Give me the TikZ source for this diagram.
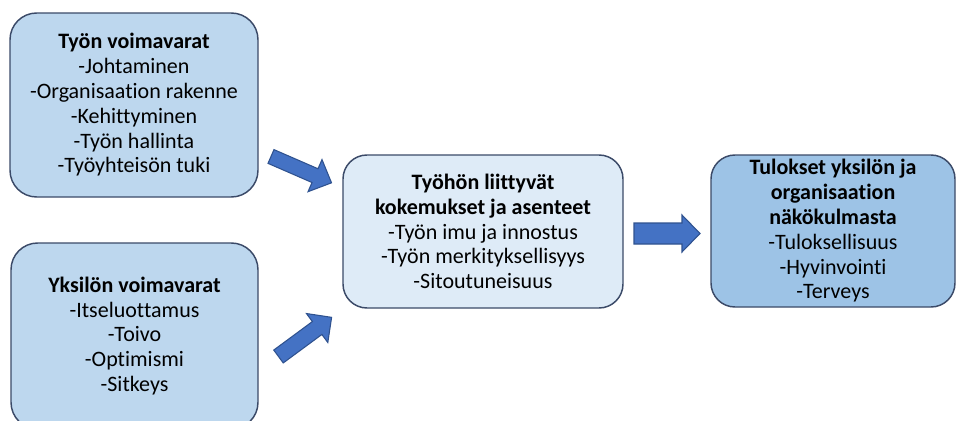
\documentclass[tikz,border=0pt]{standalone}
\usepackage{fontspec}
\setmainfont[Ligatures=NoCommon]{Carlito}
\begin{document}
\begin{tikzpicture}[x=0.75pt,y=-0.75pt,
  box/.style={draw=boxline, line width=1.1pt, rounded corners=20pt, inner sep=0pt,
    align=center, font=\fontsize{16.5}{18.6}\selectfont},
  blockarrow/.style={draw=arrowline, fill=arrowfill, line width=0.8pt, line join=miter}]
\definecolor{boxline}{HTML}{3B4A68}
\definecolor{fillA}{HTML}{BDD7EE}
\definecolor{fillB}{HTML}{DEEBF7}
\definecolor{fillC}{HTML}{9DC3E6}
\definecolor{arrowfill}{HTML}{4472C4}
\definecolor{arrowline}{HTML}{2F528F}
\useasboundingbox (0,0) rectangle (957,421);
\clip (0,0) rectangle (957,421);

\node[box, fill=fillA, minimum width=186pt, minimum height=138pt] (tyo) at (134,105)
  {\textbf{Työn voimavarat}\\-Johtaminen\\-Organisaation rakenne\\-Kehittyminen\\-Työn hallinta\\-Työyhteisön tuki};
\node[box, fill=fillA, minimum width=185.25pt, minimum height=139.5pt] (yks) at (134.5,336)
  {\textbf{Yksilön voimavarat}\\-Itseluottamus\\-Toivo\\-Optimismi\\-Sitkeys};
\node[box, fill=fillB, minimum width=210pt, minimum height=114.75pt, rounded corners=18pt] (kok) at (483,231.5)
  {\textbf{Työhön liittyvät}\\\textbf{kokemukset ja asenteet}\\-Työn imu ja innostus\\-Työn merkityksellisyys\\-Sitoutuneisuus};
\node[box, fill=fillC, minimum width=183pt, minimum height=114pt, rounded corners=18pt] (tul) at (833,231)
  {\textbf{Tulokset yksilön ja}\\\textbf{organisaation}\\\textbf{näkökulmasta}\\-Tuloksellisuus\\-Hyvinvointi\\-Terveys};

% block arrows: local frame, tail at origin, pointing along +x
\def\barrow#1#2#3{% shaft width, head width, length
  \draw[blockarrow] (0,-#1/2) -- ({#3-18},-#1/2) -- ({#3-18},-#2/2) -- (#3,0)
    -- ({#3-18},#2/2) -- ({#3-18},#1/2) -- (0,#1/2) -- cycle;}
\begin{scope}[shift={(271,156.5)}, rotate=-23.5]
  \barrow{15}{35}{66}
\end{scope}
\begin{scope}[shift={(278.5,356.5)}, rotate=36.4]
  \barrow{16}{36}{66}
\end{scope}
\begin{scope}[shift={(634,233.5)}]
  \barrow{21}{37}{66}
\end{scope}
\end{tikzpicture}
\end{document}
